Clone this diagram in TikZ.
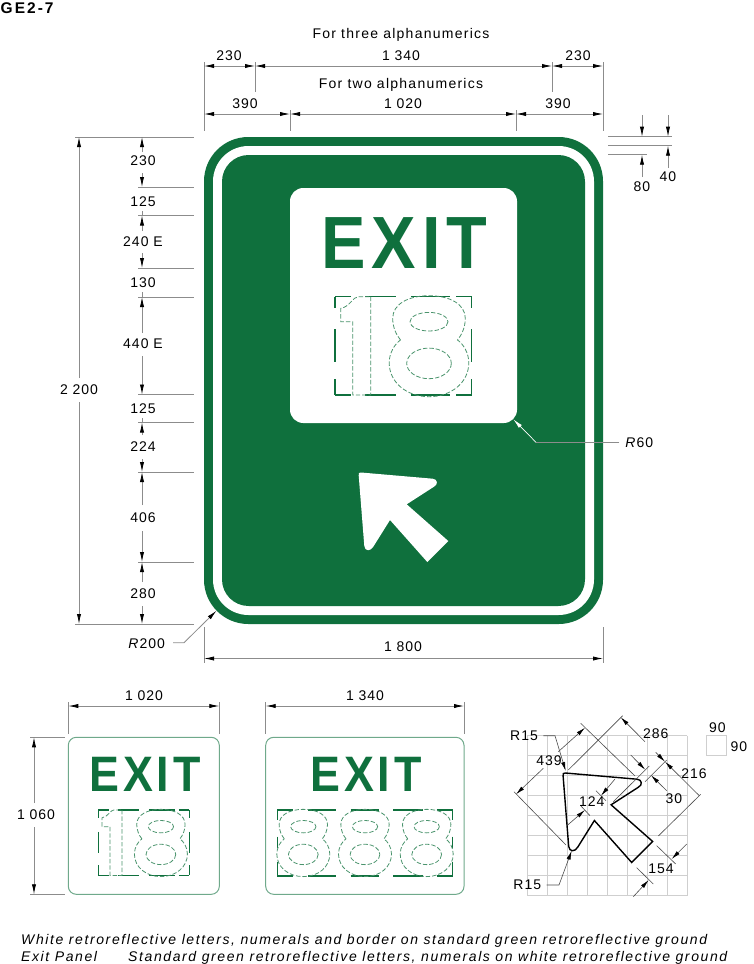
\documentclass[tikz,border=0pt]{standalone}
\usepackage{fontspec}
\setmainfont[LetterSpace=7]{Liberation Sans}
\newfontfamily\wordfont[LetterSpace=9]{Liberation Sans}
\newfontfamily\notefont[LetterSpace=11.5]{Liberation Sans}
\newfontfamily\titlefont[LetterSpace=13]{Liberation Sans}
\newfontfamily\exitfont[LetterSpace=8,FakeStretch=0.9]{Liberation Sans}
\usetikzlibrary{arrows.meta}
\definecolor{signgreen}{HTML}{0F703D}
\definecolor{dimgrey}{HTML}{8C8C8C}
\definecolor{gridgrey}{HTML}{CFCFCF}
\newcommand{\exitarrow}[1]{%
	\path[#1] (358.7,475.5) .. controls (358.4,473) and (359,472.4) .. (361,472.5) -- (432.7,478.7) .. controls (437.5,479) and (438.5,484.5) .. (434,486.7) -- (406.7,504.3) -- (448.3,541) -- (427.3,562) -- (390,520) -- (373.3,546.7) .. controls (370.5,551.5) and (365,551.5) .. (364.3,546) -- cycle;}
\newcommand{\numeralone}{%
	\draw[numeral] (35.7,0) -- (35.7,98.3) -- (17.7,98.3) -- (17.7,25) -- (5.7,25) -- (5.7,11.7) .. controls (15,10) and (18,0) .. (23.3,0) -- cycle;}
\newcommand{\numeraleight}{%
	\draw[numeral] (-28.5,43.3) .. controls (-33,38) and (-36.3,30) .. (-36.3,21.7) .. controls (-36.3,7) and (-20,-1) .. (0,-1) .. controls (20,-1) and (36.3,7) .. (36.3,21.7) .. controls (36.3,30) and (33,38) .. (28.5,43.3) .. controls (34,47) and (39.8,56) .. (39.8,66) .. controls (39.8,86) and (22,100) .. (0,100) .. controls (-22,100) and (-39.8,86) .. (-39.8,66) .. controls (-39.8,56) and (-34,47) .. (-28.5,43.3) -- cycle;
	\draw[numeral] (0,25) ellipse [x radius=19,y radius=9.3];
	\draw[numeral] (0,66.7) ellipse [x radius=22.3,y radius=15.3];}
\newcommand{\numberframe}{%
	\foreach \a/\b in {0/16,30/60.7,76/115,121/136.7}
	{
		\draw[framemark] (\a,0) -- (\b,0);
		\draw[framemark] (\a,98.3) -- (\b,98.3);
	}
	\foreach \a/\b in {0/11.7,32.7/65,82.7/98.3}
	{
		\draw[framemark] (0,\a) -- (0,\b);
		\draw[framemark] (136.7,\a) -- (136.7,\b);
	}}
\begin{document}
\begin{tikzpicture}
[   x=1pt,y=-1pt,
	every node/.style={font=\fontsize{14}{15}\selectfont,inner sep=0pt},
	wordnode/.style={font=\wordfont\fontsize{14}{15}\selectfont},
	notenode/.style={anchor=base west,font=\notefont\itshape\fontsize{14}{15}\selectfont},
	dimline/.style={draw=dimgrey,line width=0.8pt},
	dimarrow/.style={draw=dimgrey,line width=0.8pt,-{Latex[color=black,length=10pt,width=4.2pt]}},
	bothends/.style={{Latex[color=black,length=10pt,width=4.2pt]}-{Latex[color=black,length=10pt,width=4.2pt]}},
	detailline/.style={draw=black!70,line width=0.6pt},
	detailarrow/.style={draw=black!70,line width=0.6pt,-{Latex[color=black,length=9pt,width=4pt]}},
	numeral/.style={draw=signgreen!75,line width=0.8pt,dash pattern=on 4.4pt off 2pt},
	framemark/.style={draw=signgreen,line width=1.1pt},
	exitmain/.style={text=signgreen,anchor=base,font=\exitfont\bfseries\fontsize{74}{74}\selectfont},
	exitsmall/.style={text=signgreen,anchor=base,font=\exitfont\bfseries\fontsize{49.8}{50}\selectfont},
	panelline/.style={draw=signgreen!60,line width=1pt,rounded corners=8pt},
]
\useasboundingbox (0,0) rectangle (753,964);
\node[anchor=west,font=\titlefont\bfseries\fontsize{15.5}{16}\selectfont] (title) at (0.5,8.5) {GE2-7};

% sign
\fill[signgreen,rounded corners=44.3pt] (204,137) rectangle (603,624);
\fill[white,rounded corners=35.5pt] (213,146) rectangle (594,615);
\fill[signgreen,rounded corners=26.6pt] (222,155) rectangle (585,606);
\fill[white,rounded corners=13.3pt] (290,188) rectangle (517,423);
\node[exitmain] (exit-main) at (404.5,268) {EXIT};
\begin{scope}[shift={(335,296.7)}]
	\numberframe
	\numeralone
	\begin{scope}[shift={(94,0)}]
		\numeraleight
	\end{scope}
\end{scope}
\exitarrow{fill=white}

% dimensions above the sign
\node[wordnode] (three) at (401,35) {For three alphanumerics};
\node[wordnode] (two) at (401,85) {For two alphanumerics};
\foreach \x/\yb in {204/131,255/92,552/92,603/131}
{
	\draw[dimline] (\x,62) -- (\x,\yb);
}
\foreach \x in {290,516}
{
	\draw[dimline] (\x,110) -- (\x,131);
}
\foreach \xa/\xb/\y in {204/255/66,255/552/66,552/603/66,204/290/114,290/516/114,516/603/114}
{
	\draw[dimarrow,bothends] (\xa,\y) -- (\xb,\y);
}
\node (t-230) at (229,56) {230};
\node (t-1340) at (401,56) {1 340};
\node (t-230b) at (578,56) {230};
\node (t-390) at (245,104) {390};
\node (t-1020) at (403,104) {1 020};
\node (t-390b) at (558,104) {390};

% border widths
\foreach \y/\xb in {136.7/672,145.7/672,154.7/647}
{
	\draw[dimline] (608,\y) -- (\xb,\y);
}
\draw[dimarrow] (642,115) -- (642,136.7);
\draw[dimarrow] (668,115) -- (668,136.7);
\draw[dimarrow] (668,168) -- (668,145.7);
\draw[dimarrow] (642,177) -- (642,154.7);
\node (t-40) at (668,177) {40};
\node (t-80) at (642,187) {80};

% dimensions left of the sign
\foreach \y in {137,187,215.5,268,297,394.5,422.5,472,562,624}
{
	\draw[dimline] (138,\y) -- (194,\y);
}
\draw[dimline] (75,137) -- (138,137);
\draw[dimline] (75,624) -- (138,624);
\draw[dimarrow] (79,378) -- (79,137);
\draw[dimarrow] (79,402) -- (79,624);
\node (t-2200) at (79,390) {2 200};
\foreach \ya/\yb in {152/137,173/187,231/215.5,253/268,333/297,356/394.5,435/422.5,459/472,505/472,531/562,582/562,606/624}
{
	\draw[dimarrow] (142,\ya) -- (142,\yb);
}
\foreach \ya/\yb in {211/215.5,292/297,418/422.5}
{
	\draw[dimline] (142,\ya) -- (142,\yb);
}
\foreach \y/\txt in {161/230,202/125,242/240 E,283/130,344/440 E,409/125,447/224,518/406,594/280}
{
	\node at (143,\y) {\txt};
}

% dimension under the sign, leaders
\draw[dimline] (204,627) -- (204,663);
\draw[dimline] (603,627) -- (603,663);
\draw[dimarrow,bothends] (204,658.5) -- (603,658.5);
\node (t-1800) at (403,647) {1 800};
\node (r-200) at (146.7,643.3) {\textit{R}200};
\draw[dimarrow] (173,642.7) -- (184,642.7) -- (216.5,610.7);
\node (r-60) at (639.3,442.7) {\textit{R}60};
\draw[dimline] (619.3,442.3) -- (536,442.3);
\draw[white,line width=0.7pt,-{Latex[length=10pt,width=4pt]}] (536,442.3) -- (513.3,419.3);

% exit panels
\draw[panelline] (68.3,737.3) rectangle (219.3,894.3);
\node[exitsmall] (exit-two) at (145,791.7) {EXIT};
\begin{scope}[shift={(98.3,810)},scale=0.666]
	\numberframe
	\numeralone
	\begin{scope}[shift={(94,0)}]
		\numeraleight
	\end{scope}
\end{scope}
\draw[panelline] (265.7,737.3) rectangle (464,894.3);
\node[exitsmall] (exit-three) at (366,791.7) {EXIT};
\foreach \a/\b in {0/16,31/58.7,73.3/102,116/145.3,159.3/175.3}
{
	\draw[framemark] (277.3+\a,810) -- (277.3+\b,810);
	\draw[framemark] (277.3+\a,876) -- (277.3+\b,876);
}
\foreach \a/\b in {0/10,26.7/38.3,51.7/66}
{
	\draw[framemark] (277.3,810+\a) -- (277.3,810+\b);
	\draw[framemark] (452.7,810+\a) -- (452.7,810+\b);
}
\foreach \x in {303.3,365,426.7}
{
	\begin{scope}[shift={(\x,810)},scale=0.666]
		\numeraleight
	\end{scope}
}

% dimensions of the panels
\foreach \x in {68.3,219.3,265.7,464}
{
	\draw[dimline] (\x,702) -- (\x,734);
}
\foreach \xa/\xb in {68.3/219.3,265.7/464}
{
	\draw[dimarrow,bothends] (\xa,706) -- (\xb,706);
}
\node (t-1020b) at (144,696) {1 020};
\node (t-1340b) at (365,696) {1 340};
\foreach \y in {737.3,894.3}
{
	\draw[dimline] (30,\y) -- (64.5,\y);
}
\draw[dimarrow] (34,803) -- (34,737.3);
\draw[dimarrow] (34,827) -- (34,894.3);
\node (t-1060) at (36,815) {1 060};

% arrow detail
\foreach \i in {0,...,8}
{
	\draw[gridgrey,line width=0.7pt] (527.3+20*\i,735.7) -- (527.3+20*\i,895.7);
	\draw[gridgrey,line width=0.7pt] (527.3,735.7+20*\i) -- (687.3,735.7+20*\i);
}
\draw[gridgrey,line width=0.7pt] (706.7,735.7) rectangle (726.7,755.7);
\node (t-90a) at (717.3,727.7) {90};
\node (t-90b) at (739,746.7) {90};
\begin{scope}[shift={(204.4,300.5)}]
	\exitarrow{draw=black,line width=1.4pt}
\end{scope}
\foreach \xa/\ya/\xb/\yb in {514/791.7/566/845,580.7/723.3/635/776,568.3/770/622.7/715.7,658.3/836/700.7/794.3,645/781.7/666.7/760,613.3/801.7/649.3/766,580.7/805.7/590/815.7,596/790.7/606/800.7,656.7/845.7/675.7/864,636.7/867.7/653.3/884}
{
	\draw[detailline] (\xa,\ya) -- (\xb,\yb);
}
\foreach \xa/\ya/\xb/\yb in {543.3/768.3/516/794.3,558.3/751.7/585/727.7,645/741.7/620.7/717.3,655.7/752.3/665/761.7,630.7/755/645.3/769.7,666.7/790.7/651/775.3,567.7/825/585/810,615/779/601/795.7,686.7/844/671.7/859,633.3/896.7/648.7/880}
{
	\draw[detailarrow] (\xa,\ya) -- (\xb,\yb);
}
\draw[detailarrow,{Latex[color=black,length=9pt,width=4pt]}-] (665,761.7) -- (699.3,795.7);
\draw[detailarrow] (543.3,735.7) -- (555,735.7) -- (565.7,771);
\draw[detailarrow] (546.7,885) -- (559,885) -- (571.7,850.7);
\node (t-439) at (549,760.7) {439};
\node (t-286) at (655.7,734) {286};
\node (t-216) at (694,773.3) {216};
\node (t-30) at (674,798.3) {30};
\node (t-124) at (591.7,801.7) {124};
\node (t-154) at (661,869) {154};
\node (r-top) at (524,735.7) {R15};
\node (r-bottom) at (527.3,885) {R15};

% footer
\node[notenode] (note-a) at (21,944) {White retroreflective letters, numerals and border on standard green retroreflective ground};
\node[notenode] (note-b) at (21,961) {Exit Panel};
\node[notenode] (note-c) at (128,961) {Standard green retroreflective letters, numerals on white retroreflective ground};
\end{tikzpicture}
\end{document}
